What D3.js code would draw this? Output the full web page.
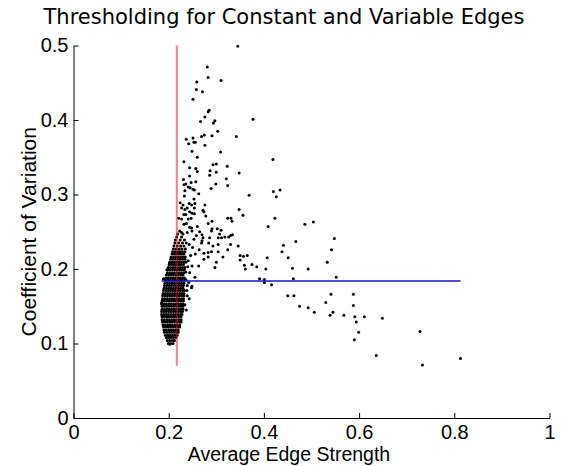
<!DOCTYPE html>
<html><head><meta charset="utf-8">
<script src="https://cdn.jsdelivr.net/npm/d3@7/dist/d3.min.js"></script>
<style>
html,body{margin:0;padding:0;background:#fff;}
svg{display:block;}
.tick text{font-family:"Liberation Sans",Arial,sans-serif;font-size:20px;fill:#000;}
</style></head><body>
<svg id="chart" width="564" height="466"></svg>
<script>
const titleText = "Thresholding for Constant and Variable Edges";
const xLabelText = "Average Edge Strength";
const yLabelText = "Coefficient of Variation";
const xTicks = [0, 0.2, 0.4, 0.6, 0.8, 1];
const xTickLabels = ["0", "0.2", "0.4", "0.6", "0.8", "1"];
const yTicks = [0, 0.1, 0.2, 0.3, 0.4, 0.5];
const yTickLabels = ["0", "0.1", "0.2", "0.3", "0.4", "0.5"];

// threshold lines
const strengthThreshold = 0.217;
const strengthLineRange = [0.07, 0.5];
const cvThreshold = 0.184;
const cvLineRange = [0.185, 0.813];

// dense core: each row = [cv, strength values...]
const coreRows = [
[0.100,0.199,0.204,0.209],
[0.104,0.197,0.202,0.207,0.212],
[0.108,0.195,0.200,0.205,0.210,0.215],
[0.111,0.193,0.198,0.203,0.208,0.213,0.218],
[0.115,0.191,0.196,0.201,0.206,0.211,0.216,0.220],
[0.118,0.190,0.195,0.200,0.205,0.210,0.215,0.220],
[0.122,0.189,0.194,0.199,0.204,0.209,0.214,0.219,0.223],
[0.125,0.188,0.193,0.198,0.203,0.208,0.213,0.218,0.223],
[0.129,0.187,0.192,0.197,0.202,0.207,0.212,0.217,0.222,0.226],
[0.132,0.186,0.191,0.196,0.201,0.206,0.211,0.216,0.221,0.226],
[0.136,0.186,0.191,0.196,0.201,0.206,0.211,0.216,0.221,0.226],
[0.139,0.185,0.190,0.195,0.200,0.205,0.210,0.215,0.220,0.225,0.228],
[0.143,0.185,0.190,0.195,0.200,0.205,0.210,0.215,0.220,0.225,0.229],
[0.146,0.186,0.191,0.196,0.201,0.206,0.211,0.216,0.221,0.226,0.230],
[0.150,0.186,0.191,0.196,0.201,0.206,0.211,0.216,0.221,0.226,0.230],
[0.153,0.185,0.190,0.195,0.200,0.205,0.210,0.215,0.220,0.225,0.230],
[0.157,0.186,0.191,0.196,0.201,0.206,0.211,0.216,0.221,0.226,0.231],
[0.160,0.187,0.192,0.197,0.202,0.207,0.212,0.217,0.222,0.227,0.231],
[0.164,0.187,0.192,0.197,0.202,0.207,0.212,0.217,0.222,0.227,0.232],
[0.167,0.188,0.193,0.198,0.203,0.208,0.213,0.218,0.223,0.228,0.232],
[0.171,0.189,0.194,0.199,0.204,0.209,0.214,0.219,0.224,0.229,0.233],
[0.174,0.190,0.195,0.200,0.205,0.210,0.215,0.220,0.225,0.230],
[0.178,0.191,0.196,0.201,0.206,0.211,0.216,0.221,0.226,0.231],
[0.181,0.192,0.197,0.202,0.207,0.212,0.217,0.222,0.227,0.232],
[0.185,0.193,0.198,0.203,0.208,0.213,0.218,0.223,0.228,0.233],
[0.188,0.194,0.199,0.204,0.209,0.214,0.219,0.224,0.229,0.233],
[0.192,0.195,0.200,0.205,0.210,0.215,0.220,0.225,0.230],
[0.195,0.197,0.202,0.207,0.212,0.217,0.222,0.227,0.232],
[0.199,0.198,0.203,0.208,0.213,0.218,0.223,0.228,0.233],
[0.202,0.199,0.204,0.209,0.214,0.219,0.224,0.229,0.234],
[0.206,0.201,0.206,0.211,0.216,0.221,0.226,0.231],
[0.209,0.202,0.207,0.212,0.217,0.222,0.227,0.232,0.236],
[0.213,0.204,0.209,0.214,0.219,0.224,0.229,0.234],
[0.216,0.205,0.210,0.215,0.220,0.225,0.230,0.235],
[0.220,0.207,0.212,0.217,0.222,0.227,0.232],
[0.223,0.208,0.214,0.219,0.224,0.229,0.234],
[0.227,0.210,0.216,0.222,0.228,0.235],
[0.231,0.211,0.218,0.225,0.232],
[0.235,0.213,0.221,0.229,0.237],
[0.239,0.214,0.224,0.233],
[0.243,0.217,0.227],
[0.247,0.219,0.230]
];

// scattered edges: [strength, cv]
const scatterPoints = [
[0.345,0.499],[0.281,0.471],[0.283,0.457],[0.310,0.453],[0.259,0.451],[0.258,0.441],[0.271,0.438],[0.251,0.428],[0.285,0.413],[0.283,0.411],
[0.276,0.404],[0.297,0.399],[0.294,0.396],[0.267,0.398],[0.377,0.401],[0.303,0.385],[0.275,0.380],[0.269,0.378],[0.291,0.379],[0.342,0.378],
[0.237,0.374],[0.251,0.376],[0.242,0.368],[0.253,0.370],[0.256,0.370],[0.276,0.366],[0.249,0.358],[0.309,0.357],[0.260,0.350],[0.232,0.344],
[0.419,0.347],[0.293,0.340],[0.300,0.341],[0.323,0.338],[0.244,0.336],[0.257,0.335],[0.287,0.332],[0.300,0.330],[0.260,0.331],[0.348,0.329],
[0.286,0.326],[0.244,0.325],[0.231,0.320],[0.321,0.321],[0.257,0.317],[0.247,0.316],[0.232,0.313],[0.236,0.314],[0.299,0.314],[0.324,0.312],
[0.241,0.310],[0.245,0.309],[0.289,0.308],[0.234,0.305],[0.251,0.307],[0.254,0.306],[0.420,0.304],[0.434,0.306],[0.263,0.301],[0.233,0.298],
[0.369,0.299],[0.426,0.297],[0.253,0.294],[0.224,0.289],[0.230,0.286],[0.243,0.288],[0.248,0.286],[0.255,0.288],[0.276,0.286],[0.227,0.282],
[0.234,0.280],[0.239,0.282],[0.254,0.282],[0.272,0.279],[0.274,0.277],[0.348,0.280],[0.244,0.277],[0.249,0.275],[0.254,0.274],[0.232,0.273],
[0.236,0.273],[0.356,0.272],[0.278,0.271],[0.221,0.268],[0.227,0.267],[0.241,0.267],[0.247,0.268],[0.324,0.268],[0.331,0.268],[0.333,0.264],
[0.423,0.268],[0.291,0.264],[0.283,0.261],[0.486,0.260],[0.504,0.263],[0.409,0.257],[0.232,0.260],[0.237,0.261],[0.260,0.257],[0.302,0.254],
[0.310,0.252],[0.291,0.254],[0.244,0.256],[0.248,0.255],[0.223,0.251],[0.227,0.249],[0.239,0.249],[0.265,0.250],[0.270,0.246],[0.330,0.245],
[0.326,0.243],[0.272,0.242],[0.304,0.242],[0.548,0.241],
[0.542,0.226],[0.533,0.209],[0.552,0.189],[0.467,0.237],[0.441,0.232],[0.438,0.223],[0.451,0.215],[0.460,0.201],[0.493,0.200],[0.462,0.187],
[0.407,0.215],[0.404,0.200],[0.385,0.203],[0.375,0.206],[0.359,0.205],[0.361,0.200],[0.350,0.218],[0.357,0.217],[0.365,0.218],[0.350,0.212],
[0.346,0.231],[0.391,0.187],[0.401,0.186],[0.401,0.182],[0.416,0.179],[0.450,0.164],[0.463,0.164],[0.475,0.150],[0.493,0.148],[0.506,0.142],
[0.530,0.155],[0.541,0.166],[0.539,0.138],[0.545,0.142],[0.568,0.138],[0.334,0.246],[0.318,0.243],[0.330,0.233],[0.324,0.226],[0.314,0.216],
[0.304,0.223],[0.290,0.223],[0.283,0.216],[0.300,0.209],[0.297,0.202],[0.274,0.221],[0.269,0.235],[0.263,0.204],[0.255,0.189],[0.249,0.177],
[0.239,0.178],[0.243,0.160],[0.284,0.235],[0.290,0.251],[0.311,0.242],[0.185,0.154],[0.189,0.187],[0.196,0.199],[0.202,0.207],[0.202,0.099],
[0.211,0.104],[0.200,0.108],
[0.588,0.166],[0.588,0.151],[0.591,0.136],[0.611,0.136],[0.649,0.134],[0.594,0.129],[0.599,0.115],[0.728,0.116],[0.590,0.105],[0.636,0.084],
[0.813,0.080],[0.733,0.071],
[0.270,0.238],[0.258,0.245],[0.249,0.251],[0.253,0.240],[0.243,0.233],[0.250,0.229],[0.264,0.226],[0.256,0.220],[0.246,0.218],[0.241,0.211],
[0.249,0.204],[0.244,0.195],[0.236,0.186],[0.248,0.175],[0.239,0.164],[0.274,0.213],[0.283,0.222],[0.293,0.231],[0.304,0.233],[0.286,0.242],
[0.307,0.247],[0.238,0.171],[0.242,0.182],[0.236,0.196],[0.240,0.203],[0.234,0.152],[0.237,0.145]
];

const svg = d3.select("#chart");
const plot = {left: 73.5, right: 549.5, top: 45.5, bottom: 418};
const x = d3.scaleLinear().domain([0, 1]).range([plot.left, plot.right]);
const y = d3.scaleLinear().domain([0, 0.5]).range([plot.bottom, plot.top]);

const points = [];
coreRows.forEach(r => { for (let i = 1; i < r.length; i++) points.push([r[i], r[0]]); });
scatterPoints.forEach(p => points.push(p));

svg.append("g").selectAll("circle").data(points).join("circle")
  .attr("cx", d => x(d[0])).attr("cy", d => y(d[1])).attr("r", 1.5).attr("fill", "#000");

svg.append("line")
  .attr("x1", x(strengthThreshold)).attr("x2", x(strengthThreshold))
  .attr("y1", y(strengthLineRange[0])).attr("y2", y(strengthLineRange[1]))
  .attr("stroke", "#ff0000").attr("stroke-opacity", 0.5).attr("stroke-width", 2);

svg.append("line")
  .attr("x1", x(cvLineRange[0])).attr("x2", x(cvLineRange[1]))
  .attr("y1", y(cvThreshold)).attr("y2", y(cvThreshold))
  .attr("stroke", "#1414c8").attr("stroke-width", 1.5);

const xAxis = svg.append("g").attr("transform", `translate(0,${plot.bottom})`)
  .call(d3.axisBottom(x).tickValues(xTicks).tickFormat((d, i) => xTickLabels[i])
    .tickSizeInner(-5).tickSizeOuter(0).tickPadding(7));
const yAxis = svg.append("g").attr("transform", `translate(${plot.left},0)`)
  .call(d3.axisLeft(y).tickValues(yTicks).tickFormat((d, i) => yTickLabels[i])
    .tickSizeInner(-5).tickSizeOuter(0).tickPadding(5));
[xAxis, yAxis].forEach(g => {
  g.select(".domain").attr("stroke", "#000").attr("stroke-width", 1);
  g.selectAll(".tick line").attr("stroke", "#000").attr("stroke-width", 1);
});

svg.append("text").attr("x", 284).attr("y", 24).attr("text-anchor", "middle")
  .style("font-family", "'DejaVu Sans', sans-serif").style("font-size", "21px").text(titleText);

svg.append("text").attr("x", 289).attr("y", 461).attr("text-anchor", "middle")
  .style("font-family", "'Liberation Sans', Arial, sans-serif").style("font-size", "19.5px").text(xLabelText);

svg.append("text").attr("transform", `translate(36,${(plot.top + plot.bottom) / 2}) rotate(-90)`)
  .attr("text-anchor", "middle")
  .style("font-family", "'Liberation Sans', Arial, sans-serif").style("font-size", "21px").text(yLabelText);
</script>
</body></html>
